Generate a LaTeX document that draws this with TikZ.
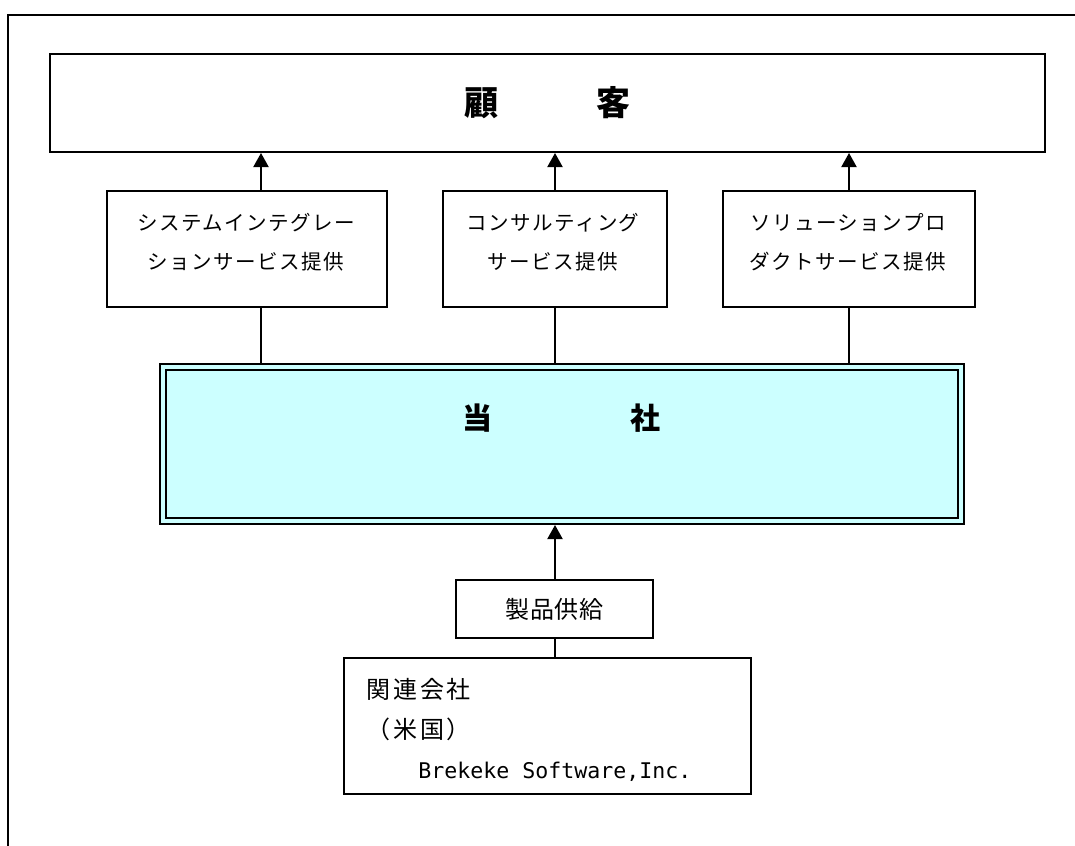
\documentclass[tikz,border=0pt]{standalone}
\usepackage{fontspec}
\newfontfamily\jp{Noto Sans CJK JP}
\newfontfamily\lat{DejaVu Sans Mono}
\usetikzlibrary{arrows.meta}
\definecolor{cyanfill}{HTML}{CCFFFF}
\begin{document}
\begin{tikzpicture}[x=0.75pt,y=-0.75pt,
  box/.style={draw, line width=1.5pt, inner sep=0pt, outer sep=0.75pt, fill=white},
  wh/.style 2 args={minimum width={#1*0.75pt}, minimum height={#2*0.75pt}},
  conn/.style={line width=1.5pt},
  arr/.style={line width=1.5pt, -{Triangle[width=11.25pt,length=10.5pt]}},
  svctext/.style={align=center, inner sep=0pt,
    font=\jp\fontsize{15.4pt}{29.25pt}\selectfont\addfontfeature{LetterSpace=7}}]
\useasboundingbox (0,0) rectangle (1075,846);
% outer frame (top and left edges)
\draw[line width=1.9pt] (8,846) -- (8,15) -- (1075,15);

% customer
\node[box, wh={995}{98}, font=\jp\fontsize{25.5pt}{25.5pt}\bfseries\selectfont] (cust) at (547.5,103) {顧\hspace{74.25pt}客};

% service boxes
\node[box, wh={280}{116}] (s1) at (247,249) {};
\node[svctext] (s1t) at (246,242.5) {システムインテグレー\\ションサービス提供};
\node[box, wh={224}{116}] (s2) at (555,249) {};
\node[svctext] (s2t) at (553,242.5) {コンサルティング\\サービス提供};
\node[box, wh={252}{116}] (s3) at (849,249) {};
\node[svctext] (s3t) at (848,242.5) {ソリューションプロ\\ダクトサービス提供};

% main company box
\node[draw, line width=1.5pt, double=cyanfill, double distance=3pt, fill=cyanfill,
      wh={798}{154.5}, inner sep=0pt, outer sep=3pt] (main) at (562,443.75) {};
\node[font=\jp\fontsize{22.5pt}{22.5pt}\bfseries\selectfont, inner sep=0pt] (maint) at (561,418) {当\hspace{103.5pt}社};

% product supply
\node[box, wh={197}{58}, font=\jp\fontsize{18pt}{18pt}\selectfont\addfontfeature{LetterSpace=2}] (prod) at (554.5,609) {製品供給};

% affiliate
\node[box, wh={407}{136}] (aff) at (547.5,726) {};
\node[anchor=west, align=left, inner sep=0pt,
      font=\jp\fontsize{18pt}{30pt}\selectfont\addfontfeature{LetterSpace=12}] (afft) at (366,730)
  {関連会社\\（米国）\\\hspace{39pt}{\lat\fontsize{16.2pt}{30pt}\selectfont Brekeke Software,Inc.}};

% connectors
\coordinate (c1) at (261,0);
\coordinate (c2) at (555,0);
\coordinate (c3) at (849,0);
\draw[arr] (s1.north -| c1) -- (cust.south -| c1);
\draw[arr] (s2.north -| c2) -- (cust.south -| c2);
\draw[arr] (s3.north -| c3) -- (cust.south -| c3);
\draw[conn] (s1.south -| c1) -- (main.north -| c1);
\draw[conn] (s2.south -| c2) -- (main.north -| c2);
\draw[conn] (s3.south -| c3) -- (main.north -| c3);
\draw[arr] (prod.north -| c2) -- (main.south -| c2);
\draw[conn] (aff.north -| c2) -- (prod.south -| c2);
\end{tikzpicture}
\end{document}
